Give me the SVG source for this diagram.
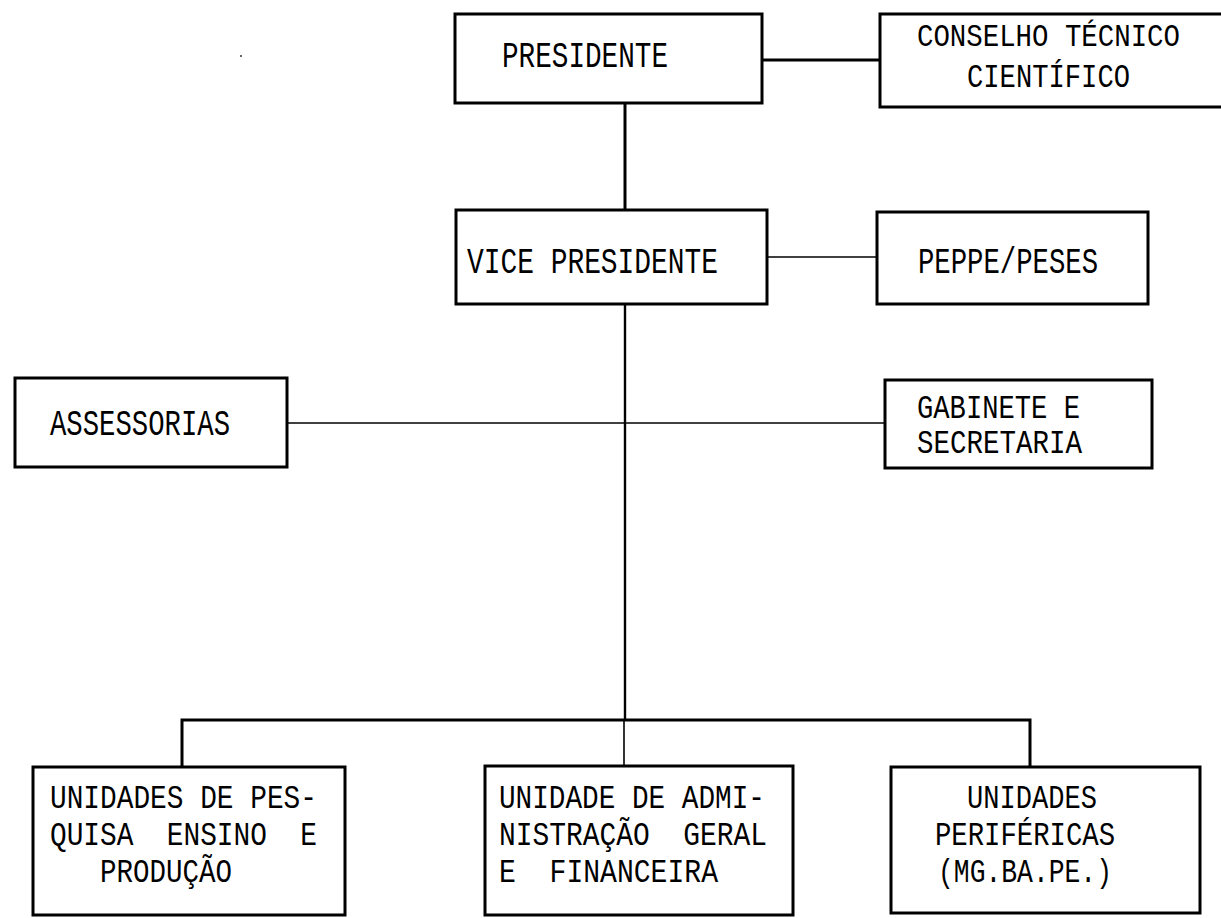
<svg xmlns="http://www.w3.org/2000/svg" width="1221" height="918" viewBox="0 0 1221 918">
<style>
.box{fill:#fff;stroke:#000;stroke-width:3}
.t{font-family:"Liberation Mono","DejaVu Sans Mono",monospace;font-size:33px;fill:#000;white-space:pre}
.l{font-size:37px}
.s{font-size:31px}
.c{fill:none;stroke:#000}
</style>
<rect width="1221" height="918" fill="#fff"/>
<g id="connectors">
<line class="c" x1="762" y1="60" x2="880" y2="60" stroke-width="3"/>
<line class="c" x1="625" y1="103" x2="625" y2="210" stroke-width="3"/>
<line class="c" x1="767" y1="257" x2="877" y2="257" stroke-width="1.6"/>
<line class="c" x1="625" y1="304" x2="625" y2="720" stroke-width="2.4"/>
<line class="c" x1="287" y1="423" x2="885" y2="423" stroke-width="1.6"/>
<polyline class="c" points="182,767 182,720 1030,720 1030,767" stroke-width="3"/>
<line class="c" x1="624" y1="720" x2="624" y2="766" stroke-width="1.6"/>
</g>
<rect x="240" y="55" width="2" height="2" fill="#666"/>
<g id="presidente">
<rect class="box" x="455" y="14" width="307" height="89"/>
<text class="t l" x="502" y="67" textLength="166" lengthAdjust="spacingAndGlyphs">PRESIDENTE</text>
</g>
<g id="conselho">
<rect class="box" x="880" y="14" width="343" height="93"/>
<text class="t s" x="917" y="46" textLength="263" lengthAdjust="spacingAndGlyphs">CONSELHO TÉCNICO</text>
<text class="t" x="967" y="87" textLength="163" lengthAdjust="spacingAndGlyphs">CIENTÍFICO</text>
</g>
<g id="vice">
<rect class="box" x="456" y="210" width="311" height="94"/>
<text class="t l" x="467" y="273" textLength="251" lengthAdjust="spacingAndGlyphs">VICE PRESIDENTE</text>
</g>
<g id="peppe">
<rect class="box" x="877" y="212" width="271" height="92"/>
<text class="t l" x="918" y="273" textLength="180" lengthAdjust="spacingAndGlyphs">PEPPE/PESES</text>
</g>
<g id="assessorias">
<rect class="box" x="15" y="378" width="272" height="89"/>
<text class="t l" x="50" y="435" textLength="180" lengthAdjust="spacingAndGlyphs">ASSESSORIAS</text>
</g>
<g id="gabinete">
<rect class="box" x="885" y="380" width="267" height="88"/>
<text class="t" x="917" y="418" textLength="163" lengthAdjust="spacingAndGlyphs">GABINETE E</text>
<text class="t" x="917" y="453" textLength="165" lengthAdjust="spacingAndGlyphs">SECRETARIA</text>
</g>
<g id="pesquisa">
<rect class="box" x="33" y="767" width="312" height="148"/>
<text class="t" x="50" y="808" textLength="267" lengthAdjust="spacingAndGlyphs">UNIDADES DE PES-</text>
<text class="t" x="50" y="845" textLength="267" lengthAdjust="spacingAndGlyphs">QUISA  ENSINO  E</text>
<text class="t" x="100" y="882" textLength="132" lengthAdjust="spacingAndGlyphs">PRODUÇÃO</text>
</g>
<g id="administracao">
<rect class="box" x="485" y="766" width="308" height="149"/>
<text class="t" x="499" y="808" textLength="266" lengthAdjust="spacingAndGlyphs">UNIDADE DE ADMI-</text>
<text class="t" x="499" y="845" textLength="268" lengthAdjust="spacingAndGlyphs">NISTRAÇÃO  GERAL</text>
<text class="t" x="499" y="882" textLength="219" lengthAdjust="spacingAndGlyphs">E  FINANCEIRA</text>
</g>
<g id="perifericas">
<rect class="box" x="891" y="767" width="309" height="146"/>
<text class="t" x="967" y="808" textLength="130" lengthAdjust="spacingAndGlyphs">UNIDADES</text>
<text class="t" x="935" y="845" textLength="180" lengthAdjust="spacingAndGlyphs">PERIFÉRICAS</text>
<text class="t" x="938" y="882" textLength="174" lengthAdjust="spacingAndGlyphs">(MG.BA.PE.)</text>
</g>
</svg>
